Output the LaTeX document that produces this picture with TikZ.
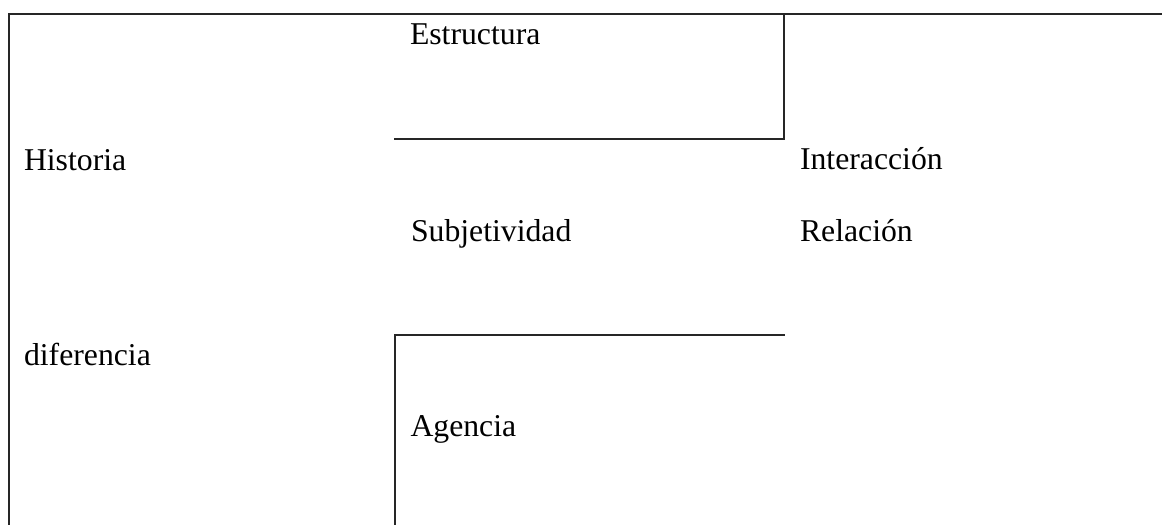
\documentclass[tikz,border=0pt]{standalone}
\usepackage{fontspec}
\setmainfont{Liberation Serif}
\begin{document}
\begin{tikzpicture}[x=0.75pt,y=-0.75pt,
  lbl/.style={anchor=base west,inner sep=0pt,outer sep=0pt,font=\fontsize{23.8pt}{28pt}\selectfont},
  rule/.style={draw=black!85,line width=1pt,line cap=rect}]
\useasboundingbox (0,0) rectangle (1162,524);
% corner coordinates
\coordinate (tl) at (9,14);
\coordinate (tr) at (1162,14);
\coordinate (bl) at (9,524);
\coordinate (e1) at (784,14);
\coordinate (e2) at (784,139);
\coordinate (e3) at (395,139);
\coordinate (a1) at (784,335);
\coordinate (a2) at (395,335);
\coordinate (a3) at (395,524);
% frame and boxes
\draw[rule] (bl) -- (tl) -- (tr);
\draw[rule] (e1) -- (e2) -- (e3);
\draw[rule] (a1) -- (a2) -- (a3);
% labels
\node[lbl] (estructura) at (410,44.3) {Estructura};
\node[lbl] (historia) at (24,170.7) {Historia};
\node[lbl] (interaccion) at (800,170) {Interacción};
\node[lbl] (subjetividad) at (411,241) {Subjetividad};
\node[lbl] (relacion) at (800,241) {Relación};
\node[lbl] (diferencia) at (24,365) {diferencia};
\node[lbl] (agencia) at (410.5,436.7) {Agencia};
\end{tikzpicture}
\end{document}
